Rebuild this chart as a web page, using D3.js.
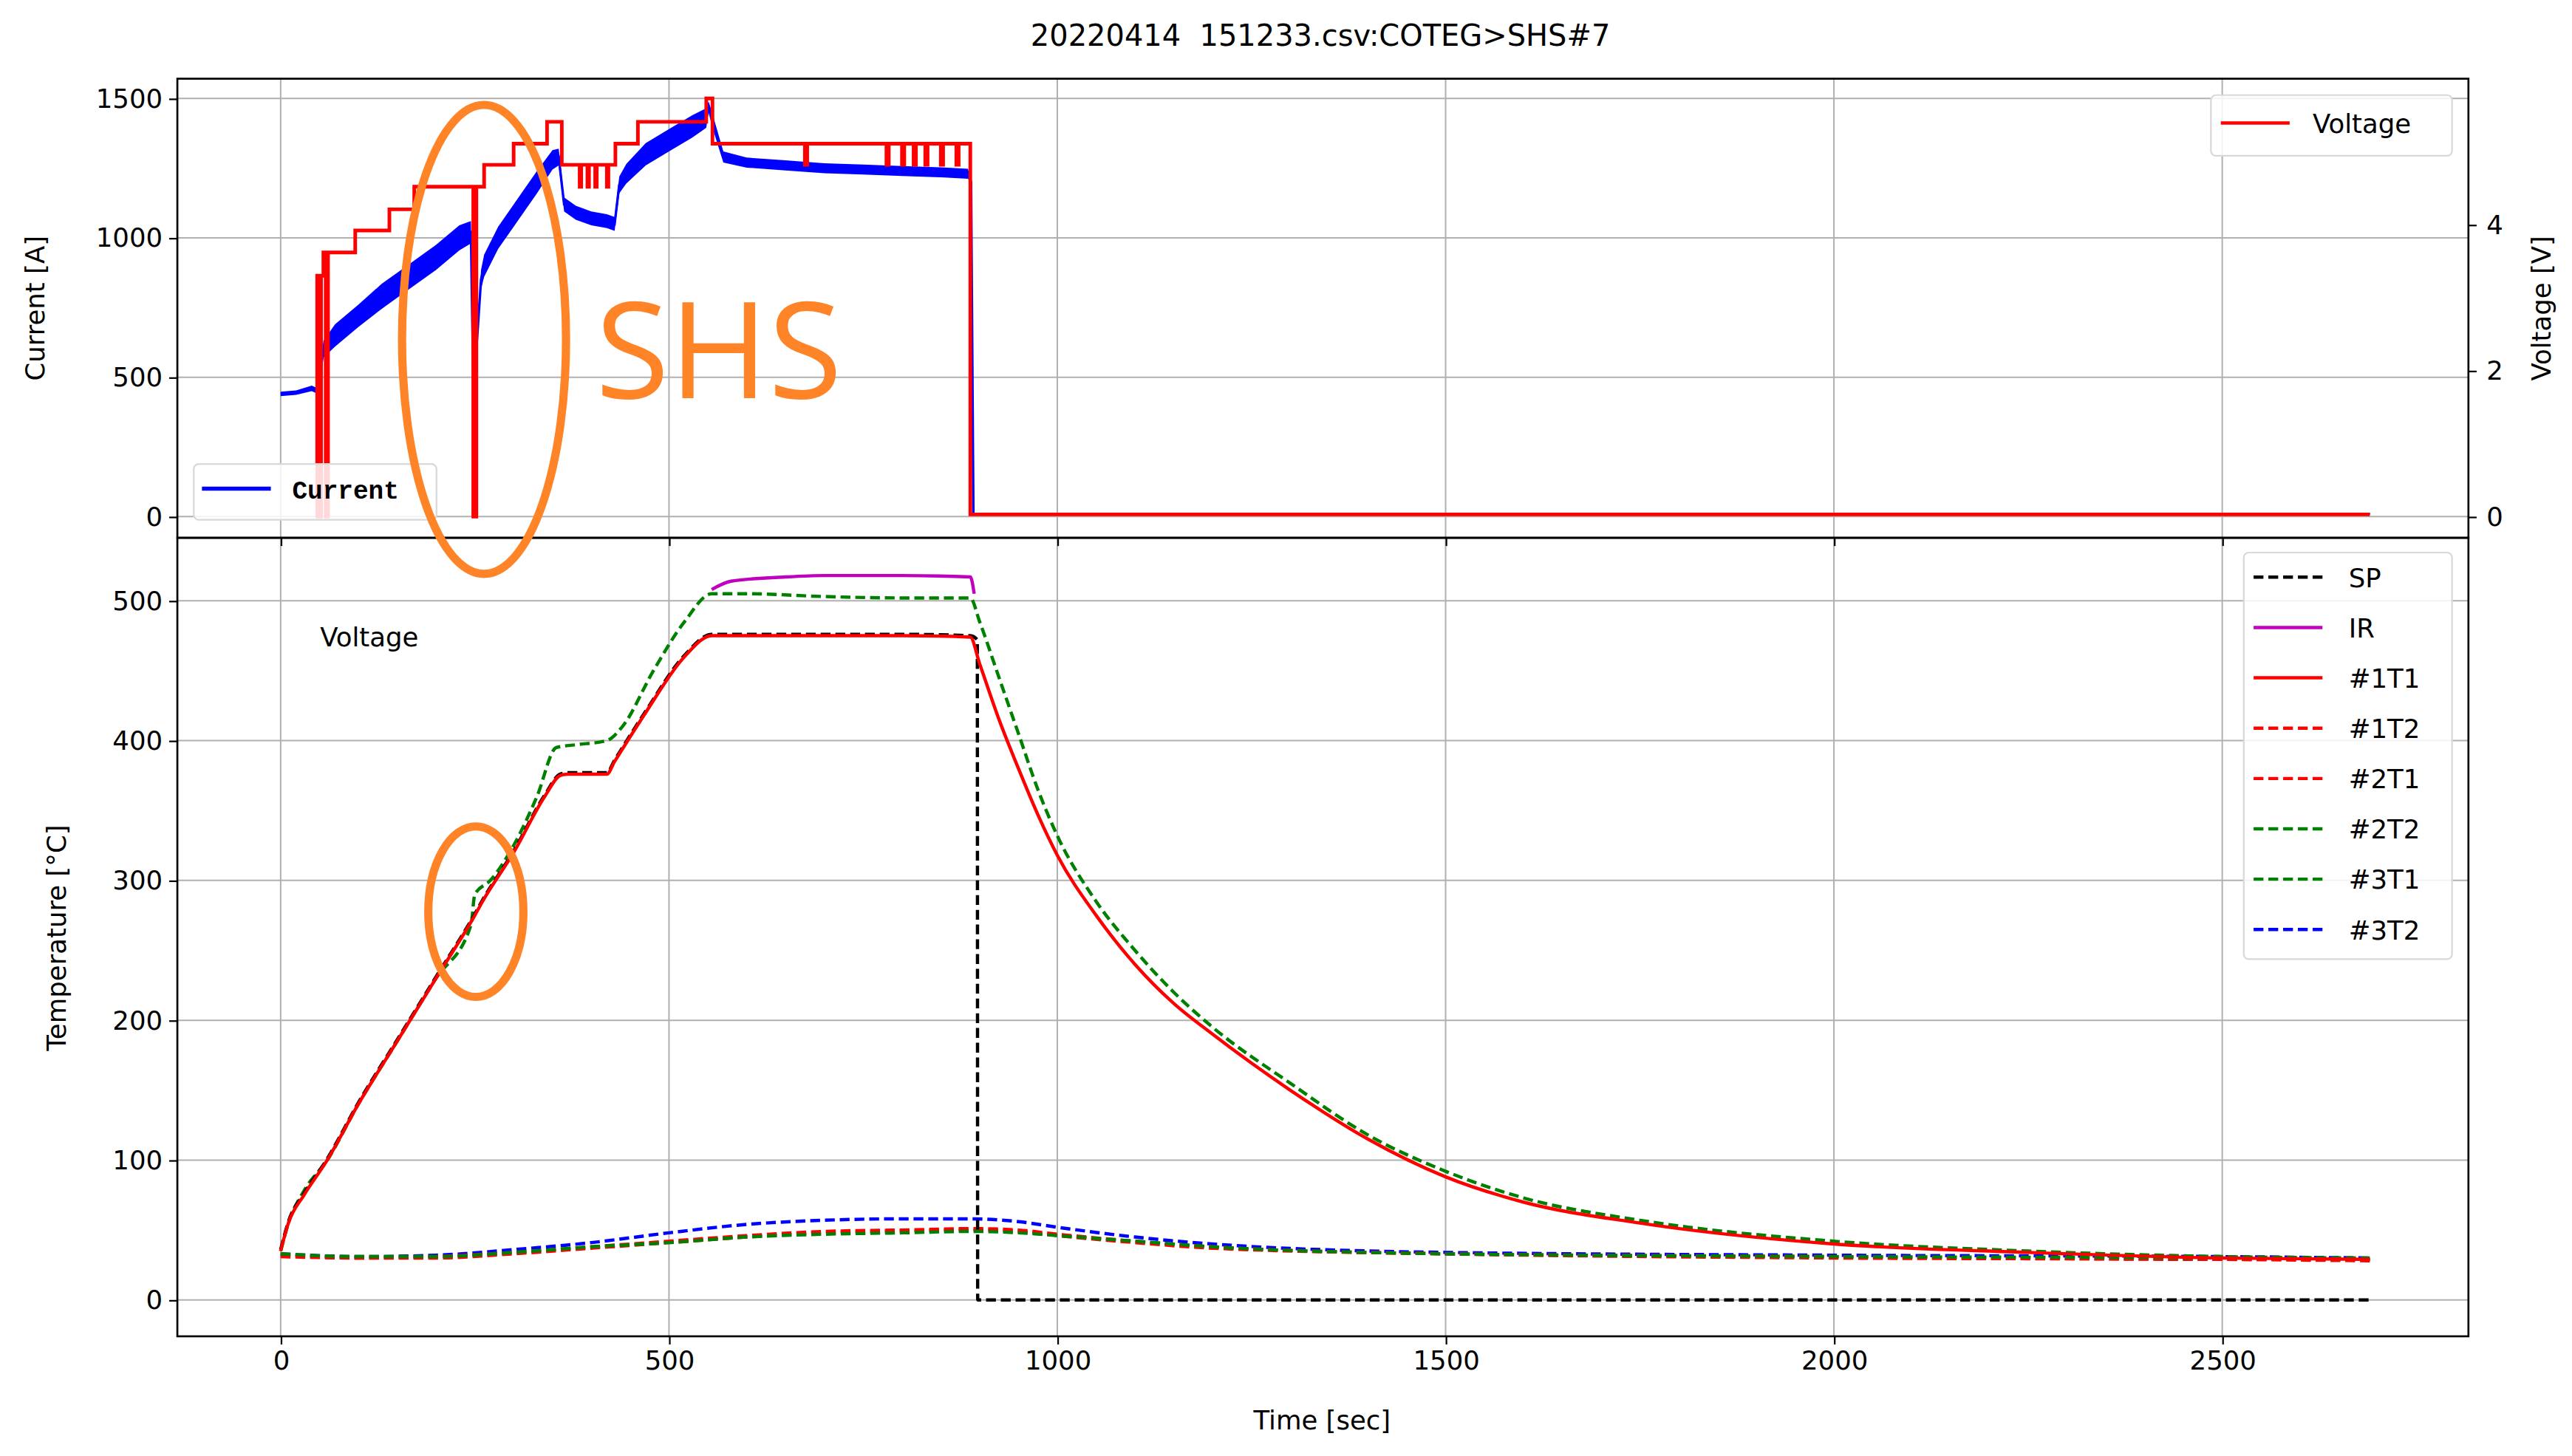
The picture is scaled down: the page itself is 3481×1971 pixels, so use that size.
<!DOCTYPE html>
<html>
<head>
<meta charset="utf-8">
<script src="https://cdn.jsdelivr.net/npm/d3@7"></script>
<style>
  body { margin: 0; background: #fff; }
  text { font-family: "DejaVu Sans", sans-serif; white-space: pre; }
</style>
</head>
<body>
<svg id="chart" width="3481" height="1971" viewBox="0 0 1568 888"></svg>
<script>
// --- datos ---
const xTicks = [0, 500, 1000, 1500, 2000, 2500];
const currentTicks = [0, 500, 1000, 1500];
const voltageTicks = [0, 2, 4];
const tempTicks = [0, 100, 200, 300, 400, 500];

const voltT = [45, 47, 50, 52, 55, 58, 61, 96, 140, 172, 248, 252, 262, 300, 343, 362, 385, 387, 395, 397, 405, 407, 420, 422, 431, 460, 548, 556, 675, 678, 780, 783, 800, 803, 815, 818, 830, 833, 850, 853, 870, 873, 888, 2690];
const voltV = [0, 3.3, 0, 3.3, 3.62, 0, 3.62, 3.92, 4.21, 4.52, 0, 4.52, 4.82, 5.11, 5.41, 4.82, 4.52, 4.82, 4.52, 4.82, 4.52, 4.82, 4.52, 4.82, 5.11, 5.41, 5.73, 5.11, 4.82, 5.11, 4.82, 5.11, 4.82, 5.11, 4.82, 5.11, 4.82, 5.11, 4.82, 5.11, 4.82, 5.11, 0.03, 0.03];

const currT = [0, 20, 40, 48, 55, 70, 100, 130, 160, 200, 230, 245, 249, 252, 258, 262, 280, 300, 330, 350, 358, 365, 380, 400, 420, 430, 436, 445, 470, 500, 530, 548, 551, 556, 570, 600, 650, 700, 750, 800, 850, 885, 889, 892, 2690];
const currI = [440, 445, 460, 450, 600, 650, 720, 790, 850, 930, 1000, 1020, 300, 600, 850, 900, 1000, 1080, 1200, 1280, 1290, 1120, 1090, 1070, 1060, 1050, 1190, 1230, 1300, 1350, 1400, 1430, 1470, 1420, 1290, 1270, 1260, 1250, 1245, 1240, 1235, 1230, 1200, 10, 10];
const currNoise = [8, 8, 10, 10, 30, 40, 40, 45, 45, 45, 45, 40, 10, 20, 35, 40, 40, 40, 40, 35, 30, 25, 25, 25, 25, 25, 30, 35, 40, 40, 40, 35, 20, 25, 20, 18, 18, 18, 18, 18, 18, 18, 5, 3, 3];

const t1T1 = [0, 10, 30, 60, 100, 150, 200, 250, 260, 300, 340, 360, 370, 420, 430, 470, 520, 555, 600, 700, 800, 888, 900, 925, 950, 975, 1000, 1050, 1100, 1150, 1200, 1300, 1400, 1500, 1600, 1750, 2000, 2250, 2500, 2690];
const v1T1 = [35, 55, 75, 100, 140, 185, 230, 275, 285, 320, 360, 375, 376, 376, 385, 420, 460, 475, 475, 475, 475, 474, 455, 415, 380, 347, 318, 275, 240, 212, 190, 150, 115, 88, 70, 55, 40, 34, 30, 29];

const spT = [0, 10, 30, 60, 100, 150, 200, 250, 260, 300, 340, 360, 370, 420, 430, 470, 520, 555, 600, 700, 800, 888, 897, 897.5, 2690];
const spV = [36, 56, 76, 101, 141, 186, 231, 276, 286, 321, 361, 376, 377, 377, 386, 421, 461, 476, 476, 476, 476, 475, 472, 0, 0];

const t2T2 = [0, 10, 30, 60, 100, 150, 200, 245, 250, 270, 300, 330, 355, 380, 420, 440, 480, 520, 555, 600, 700, 800, 888, 900, 925, 950, 975, 1000, 1050, 1100, 1150, 1200, 1300, 1400, 1500, 1600, 1750, 2000, 2250, 2500, 2690];
const v2T2 = [35, 55, 78, 100, 140, 185, 230, 268, 290, 300, 325, 360, 395, 397, 400, 410, 450, 485, 505, 505, 503, 502, 502, 485, 445, 405, 365, 332, 285, 250, 220, 195, 155, 118, 92, 73, 57, 42, 35, 31, 30];

const irT = [555, 580, 650, 700, 800, 888, 893];
const irV = [508, 514, 517, 518, 518, 517, 505];

const lowT = [0, 100, 200, 300, 400, 500, 600, 700, 800, 890, 950, 1000, 1100, 1200, 1500, 2000, 2500, 2690];
const low1T2 = [32, 30, 31, 34, 38, 42, 46, 49, 50, 51, 50, 47, 42, 38, 33, 31, 29, 29];
const low2T1 = [31, 30, 30, 33, 37, 41, 45, 48, 49, 50, 49, 46, 41, 37, 33, 30, 29, 28];
const low3T1 = [33, 31, 31, 34, 38, 41, 45, 47, 48, 49, 48, 46, 42, 38, 33, 31, 30, 29];
const low3T2 = [33, 31, 32, 36, 41, 48, 54, 57, 58, 58, 56, 52, 45, 40, 34, 32, 31, 30];

const legendLabels = ["SP", "IR", "#1T1", "#1T2", "#2T1", "#2T2", "#3T1", "#3T2"];
const legendColors = ["black", "#bf00bf", "red", "red", "red", "green", "green", "blue"];
const legendDash = ["6,3", null, null, "6,3", "6,3", "6,3", "6,3", "6,3"];

// --- escalas ---
const svg = d3.select("#chart");
const L = 108, R = 1505, topY0 = 48, topY1 = 328, botY1 = 815;
const x = d3.scaleLinear().domain([-133, 2817]).range([L, R]);
const yCur = d3.scaleLinear().domain([-76, 1571]).range([topY1, topY0]);
const yVolt = d3.scaleLinear().domain([-0.29, 6.0]).range([topY1, topY0]);
const yTemp = d3.scaleLinear().domain([-26, 545]).range([botY1, topY1]);

const zip = (a, b) => a.map((v, i) => [v, b[i]]);

// cuadrícula
function grid(yScale, ticks, y0, y1) {
  const g = svg.append("g").attr("stroke", "#b0b0b0").attr("stroke-width", 0.9);
  xTicks.forEach(t => g.append("line").attr("x1", x(t)).attr("x2", x(t)).attr("y1", y0).attr("y2", y1));
  ticks.forEach(t => g.append("line").attr("x1", L).attr("x2", R).attr("y1", yScale(t)).attr("y2", yScale(t)));
}
grid(yCur, currentTicks, topY0, topY1);
grid(yTemp, tempTicks, topY1, botY1);

// --- panel superior ---
const upper = svg.append("g");
const noiseArea = d3.area().x(d => x(d[0])).y0(d => yCur(d[1] - d[2])).y1(d => yCur(d[1] + d[2]));
upper.append("path").datum(currT.map((t, i) => [t, currI[i], currNoise[i]]))
  .attr("d", noiseArea).attr("fill", "blue");
upper.append("path").datum(zip(currT, currI))
  .attr("d", d3.line().x(d => x(d[0])).y(d => yCur(d[1])))
  .attr("fill", "none").attr("stroke", "blue").attr("stroke-width", 1.5);
upper.append("path").datum(zip(voltT, voltV))
  .attr("d", d3.line().curve(d3.curveStepAfter).x(d => x(d[0])).y(d => yVolt(d[1])))
  .attr("fill", "none").attr("stroke", "red").attr("stroke-width", 2.2);

// --- panel inferior ---
function tline(ts, vs, color, dash, w) {
  svg.append("path").datum(zip(ts, vs))
    .attr("d", d3.line().curve(d3.curveMonotoneX).x(d => x(d[0])).y(d => yTemp(d[1])))
    .attr("fill", "none").attr("stroke", color).attr("stroke-width", w || 2)
    .attr("stroke-dasharray", dash);
}
tline(lowT, low3T2, "blue", "6,3");
tline(lowT, low1T2, "red", "6,3");
tline(lowT, low2T1, "red", "6,3");
tline(lowT, low3T1, "green", "6,3");
tline(irT, irV, "#bf00bf", null);
tline(t2T2, v2T2, "green", "6,3");
tline(spT, spV, "black", "6,3");
tline(t1T1, v1T1, "red", null);

// --- ejes ---
function box(y0, y1) {
  svg.append("rect").attr("x", L).attr("y", y0).attr("width", R - L).attr("height", y1 - y0)
    .attr("fill", "none").attr("stroke", "black").attr("stroke-width", 1.2);
}
box(topY0, topY1);
box(topY1, botY1);

const fs = 16;
const fmt = d3.format("d");
function styleAxis(g) {
  g.select(".domain").remove();
  g.selectAll("text").style("font-size", fs + "px").style("font-family", "DejaVu Sans").attr("fill", "black");
  g.selectAll("line").attr("stroke", "black");
}
svg.append("g").attr("transform", `translate(0,${botY1})`)
  .call(d3.axisBottom(x).tickValues(xTicks).tickFormat(fmt).tickSize(5).tickPadding(4)).call(styleAxis);
svg.append("g").attr("transform", `translate(0,${topY1})`)
  .call(d3.axisBottom(x).tickValues(xTicks).tickSize(5).tickFormat("")).call(styleAxis);
svg.append("g").attr("transform", `translate(${L},0)`)
  .call(d3.axisLeft(yCur).tickValues(currentTicks).tickFormat(fmt).tickSize(5).tickPadding(4)).call(styleAxis);
svg.append("g").attr("transform", `translate(${R},0)`)
  .call(d3.axisRight(yVolt).tickValues(voltageTicks).tickFormat(fmt).tickSize(5).tickPadding(6)).call(styleAxis);
svg.append("g").attr("transform", `translate(${L},0)`)
  .call(d3.axisLeft(yTemp).tickValues(tempTicks).tickFormat(fmt).tickSize(5).tickPadding(4)).call(styleAxis);

// títulos
svg.append("text").attr("x", 805).attr("y", 28).attr("text-anchor", "middle").style("font-size", "18px")
  .text("20220414  151233.csv:COTEG>SHS#7");
svg.append("text").attr("x", 806).attr("y", 872).attr("text-anchor", "middle").style("font-size", fs + "px").text("Time [sec]");
svg.append("text").attr("transform", "translate(27,188) rotate(-90)").attr("text-anchor", "middle").style("font-size", fs + "px").text("Current [A]");
svg.append("text").attr("transform", "translate(1555,188) rotate(-90)").attr("text-anchor", "middle").style("font-size", fs + "px").text("Voltage [V]");
svg.append("text").attr("transform", "translate(40,572) rotate(-90)").attr("text-anchor", "middle").style("font-size", fs + "px").text("Temperature [°C]");
svg.append("text").attr("x", 195).attr("y", 394).style("font-size", fs + "px").text("Voltage");

// leyendas
function legendBox(x0, y0, w, h) {
  svg.append("rect").attr("x", x0).attr("y", y0).attr("width", w).attr("height", h).attr("rx", 3)
    .attr("fill", "white").attr("fill-opacity", 0.85).attr("stroke", "#d8d8d8");
}
legendBox(1348, 58, 147, 37);
svg.append("line").attr("x1", 1354).attr("x2", 1396).attr("y1", 75).attr("y2", 75).attr("stroke", "red").attr("stroke-width", 2);
svg.append("text").attr("x", 1410).attr("y", 81).style("font-size", fs + "px").text("Voltage");

legendBox(118, 283, 148, 34);
svg.append("line").attr("x1", 123).attr("x2", 165).attr("y1", 298).attr("y2", 298).attr("stroke", "blue").attr("stroke-width", 2.5);
svg.append("text").attr("x", 178).attr("y", 304).style("font-family", "Liberation Mono").style("font-weight", "bold")
  .style("font-size", "15.5px").text("Current");

legendBox(1368, 337, 127, 248);
legendLabels.forEach((lab, i) => {
  const yy = 352 + i * 30.7;
  svg.append("line").attr("x1", 1374).attr("x2", 1416).attr("y1", yy).attr("y2", yy)
    .attr("stroke", legendColors[i]).attr("stroke-width", 2).attr("stroke-dasharray", legendDash[i]);
  svg.append("text").attr("x", 1432).attr("y", yy + 6).style("font-size", fs + "px").text(lab);
});

// anotaciones naranjas
svg.append("ellipse").attr("cx", 295).attr("cy", 207).attr("rx", 50).attr("ry", 143)
  .attr("fill", "none").attr("stroke", "#ff8327").attr("stroke-width", 5);
svg.append("ellipse").attr("cx", 290).attr("cy", 556).attr("rx", 29).attr("ry", 52)
  .attr("fill", "none").attr("stroke", "#ff8327").attr("stroke-width", 5);
svg.append("text").attr("x", 363).attr("y", 243).style("font-size", "82px").attr("fill", "#ff8327")
  .style("font-family", "Open Sans").text("SHS");
</script>
</body>
</html>
